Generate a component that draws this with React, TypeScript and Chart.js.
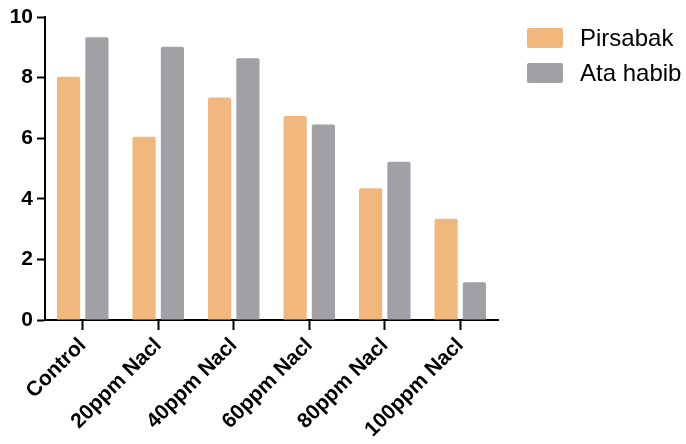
import React, { useEffect, useRef } from 'react';
import { Chart, registerables } from 'chart.js';

Chart.register(...registerables);

const categories = ['Control', '20ppm Nacl', '40ppm Nacl', '60ppm Nacl', '80ppm Nacl', '100ppm Nacl'];
const seriesNames = ['Pirsabak', 'Ata habib'];
const pirsabak = [8.03, 6.05, 7.34, 6.73, 4.35, 3.34];
const ataHabib = [9.33, 9.02, 8.64, 6.45, 5.22, 1.25];
const seriesColors = ['#F2B77C', '#A1A0A5'];
const yMin = 0;
const yMax = 10;
const yStep = 2;

const FONT = '"Liberation Sans", Arial, Helvetica, sans-serif';

const legendPlugin = {
  id: 'customLegend',
  afterDraw(chart: any) {
    const ctx = chart.ctx;
    ctx.save();
    chart.data.datasets.forEach((ds: any, i: number) => {
      const y = 28 + i * 35;
      ctx.fillStyle = ds.backgroundColor;
      ctx.beginPath();
      if ((ctx as any).roundRect) (ctx as any).roundRect(527, y, 36, 20, 2);
      else ctx.rect(527, y, 36, 20);
      ctx.fill();
      ctx.fillStyle = '#000';
      ctx.font = `24px ${FONT}`;
      ctx.textBaseline = 'middle';
      ctx.textAlign = 'left';
      ctx.fillText(ds.label, 580, y + 11);
    });
    ctx.restore();
  },
};

export default function App() {
  const ref = useRef<HTMLCanvasElement>(null);

  useEffect(() => {
    if (!ref.current) return;
    const chart = new Chart(ref.current, {
      type: 'bar',
      data: {
        labels: categories,
        datasets: [
          {
            label: seriesNames[0],
            data: pirsabak,
            backgroundColor: seriesColors[0],
            borderRadius: 2,
            categoryPercentage: 0.75,
            barPercentage: 0.82,
          },
          {
            label: seriesNames[1],
            data: ataHabib,
            backgroundColor: seriesColors[1],
            borderRadius: 2,
            categoryPercentage: 0.75,
            barPercentage: 0.82,
          },
        ],
      },
      options: {
        responsive: false,
        animation: false,
        layout: { padding: { top: 17, right: 188, left: 0, bottom: 0 } },
        plugins: {
          legend: { display: false },
          tooltip: { enabled: false },
        },
        scales: {
          x: {
            offset: true,
            grid: {
              display: true,
              drawOnChartArea: false,
              drawTicks: true,
              offset: false,
              tickLength: 10,
              tickWidth: 2,
              tickColor: '#000',
            },
            border: { display: true, color: '#000', width: 2 },
            ticks: {
              maxRotation: 45,
              minRotation: 45,
              color: '#000',
              padding: 3,
              font: { family: FONT, size: 21, weight: 'bold' },
            },
            afterFit(scale: any) {
              scale.height = 124;
            },
          },
          y: {
            min: yMin,
            max: yMax,
            grid: {
              display: true,
              drawOnChartArea: false,
              drawTicks: true,
              tickLength: 8,
              tickWidth: 2,
              tickColor: '#000',
            },
            border: { display: true, color: '#000', width: 2 },
            ticks: {
              stepSize: yStep,
              color: '#000',
              padding: 4,
              font: { family: FONT, size: 21, weight: 'bold' },
            },
            afterFit(scale: any) {
              scale.width = 45;
            },
          },
        },
      },
      plugins: [legendPlugin],
    });
    return () => chart.destroy();
  }, []);

  return (
    <div style={{ position: 'fixed', left: 0, top: 0, width: 686, height: 444, background: '#fff' }}>
      <canvas ref={ref} width={686} height={444} />
    </div>
  );
}
